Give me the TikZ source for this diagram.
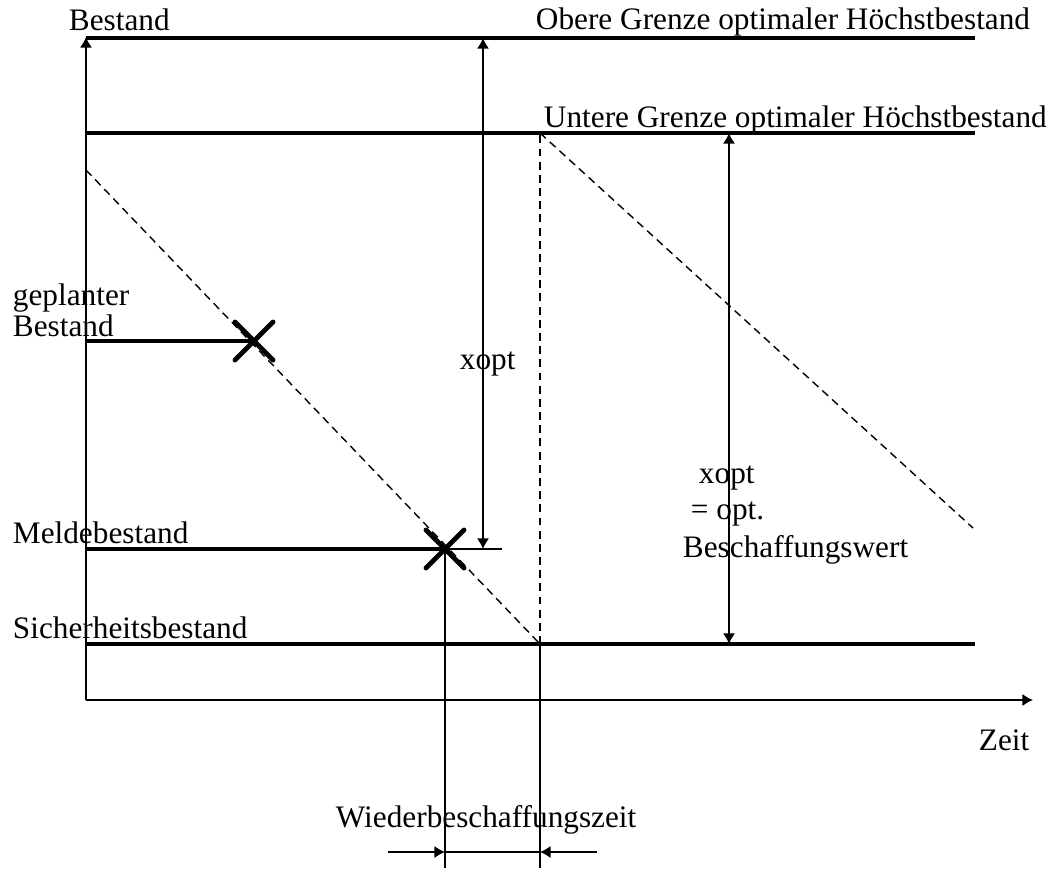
\documentclass[tikz,border=0pt]{standalone}
\usepackage{fontspec}
\setmainfont{Liberation Serif}
\usetikzlibrary{arrows.meta}
\begin{document}
\begin{tikzpicture}[x=0.02cm,y=-0.02cm,>={Latex[length=6pt,width=7pt]},line width=1.1pt,
    level/.style={line width=2.5pt},
    plan/.style={line width=0.8pt,dash pattern=on 4.5pt off 3pt},
    cross/.style={line width=2.8pt,line cap=round},
    lbl/.style={anchor=base west,inner sep=0pt,font=\fontsize{17.8}{21}\selectfont}]
\useasboundingbox (0,0) rectangle (1057,868);
% axes
\coordinate (O) at (86,700);
\coordinate (ytop) at (86,37);
\coordinate (xend) at (1033,700);
\draw[->] (O)--(ytop);
\draw[->] (O)--(xend);
\node[lbl] (bestand) at (68,31) {Bestand};
\node[lbl] (zeit) at (978,750) {Zeit};
% stock levels
\coordinate (ob) at (86,38);   \coordinate (obR) at (975,38);
\coordinate (un) at (86,133);  \coordinate (unR) at (975,133);
\coordinate (gp) at (86,341);  \coordinate (gpX) at (254,341);
\coordinate (mb) at (86,549);  \coordinate (mbX) at (445,549); \coordinate (mbR) at (502,549);
\coordinate (sb) at (86,644);  \coordinate (sbR) at (975,644);
\draw[level] (ob)--(obR);
\draw[level] (un)--(unR);
\draw[level] (gp)--(gpX);
\draw[level] (mb)--(mbX);
\draw (mbX)--(mbR);
\draw[level] (sb)--(sbR);
\node[lbl] (obere) at (535,30) {Obere Grenze optimaler Höchstbestand};
\node[lbl] (untere) at (543,128) {Untere Grenze optimaler Höchstbestand};
\node[lbl] (geplant) at (12,305) {geplanter};
\node[lbl] (geplant2) at (12,336) {Bestand};
\node[lbl] (melde) at (12,543) {Meldebestand};
\node[lbl] (sicher) at (12,638) {Sicherheitsbestand};
% consumption
\coordinate (start) at (86,170);
\coordinate (lief) at (540,644);
\coordinate (liefU) at (540,133);
\coordinate (next) at (973,528);
\draw[plan] (start)--(lief);
\draw[plan,line width=1.1pt] (lief)--(liefU);
\draw[plan] (liefU)--(next);
\foreach \p in {gpX,mbX}
  \draw[cross] (\p) +(-19,-19) -- +(19,19) (\p) +(-19,19) -- +(19,-19);
% order quantities
\coordinate (xa1) at (483,38);  \coordinate (xa2) at (483,549);
\coordinate (xb1) at (729,133); \coordinate (xb2) at (729,644);
\draw[<->] (xa1)--(xa2);
\draw[<->] (xb1)--(xb2);
\node[lbl] (xopt) at (459,369) {xopt};
\node[lbl] (xopt2) at (698,483) {xopt};
\node[lbl] (gleich) at (690,519) {= opt.};
\node[lbl] (bw) at (682,557) {Beschaffungswert};
% replenishment time
\coordinate (tA) at (445,868);
\coordinate (tB) at (540,868);
\draw (mbX)--(tA);
\draw (lief)--(tB);
\coordinate (wl) at (388,852); \coordinate (wa) at (445,852);
\coordinate (wb) at (540,852); \coordinate (wr) at (597,852);
\draw[->] (wl)--(wa);
\draw[line width=0.8pt] (wa)--(wb);
\draw[->] (wr)--(wb);
\node[lbl] (wbz) at (335,827) {Wiederbeschaffungszeit};
\end{tikzpicture}
\end{document}
